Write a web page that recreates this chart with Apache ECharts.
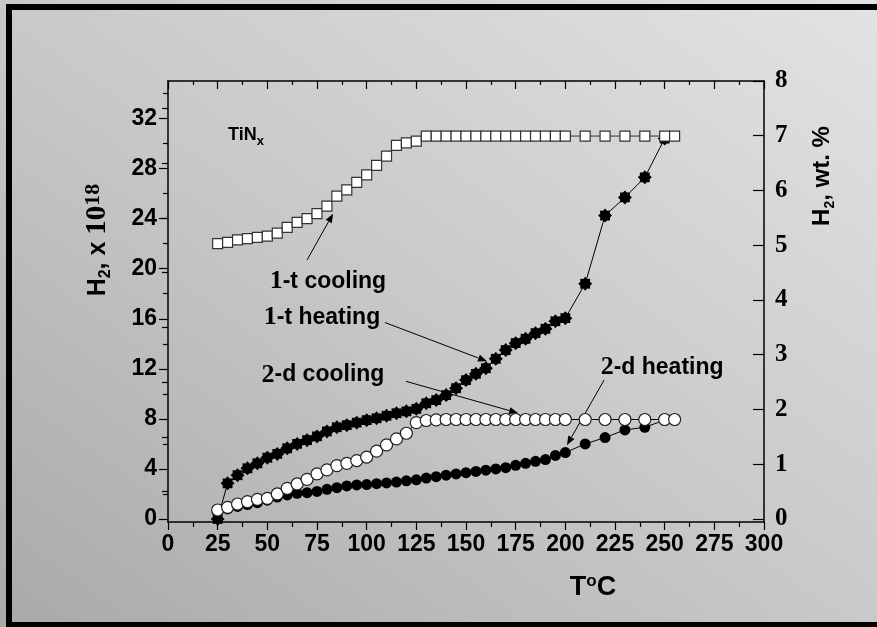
<!DOCTYPE html>
<html>
<head>
<meta charset="utf-8">
<script src="https://cdn.jsdelivr.net/npm/echarts@6/dist/echarts.min.js"></script>
<style>
  html, body { margin: 0; padding: 0; }
  #main {
    width: 877px; height: 627px;
    background: linear-gradient(to top right, #a9a9a9 0%, #c9c9c9 50%, #e3e3e3 100%);
  }
</style>
</head>
<body>
<div id="main"></div>
<script>
// temperatures (°C) and H2 (x 10^18)
const cool1T = [25,30,35,40,45,50,55,60,65,70,75,80,85,90,95,100,105,110,115,120,125,130,135,140,145,150,155,160,165,170,175,180,185,190,195,200,210,220,230,240,250,255];
const cool1V = [22.0,22.1,22.3,22.4,22.5,22.6,22.85,23.3,23.7,24.0,24.4,25.0,25.8,26.3,26.9,27.5,28.25,29.0,29.85,30.05,30.2,30.6,30.6,30.6,30.6,30.6,30.6,30.6,30.6,30.6,30.6,30.6,30.6,30.6,30.6,30.6,30.6,30.6,30.6,30.6,30.6,30.6];

const heat1T = [25,30,35,40,45,50,55,60,65,70,75,80,85,90,95,100,105,110,115,120,125,130,135,140,145,150,155,160,165,170,175,180,185,190,195,200,210,220,230,240,250];
const heat1V = [0.0,2.85,3.5,4.05,4.45,4.9,5.2,5.65,6.0,6.3,6.6,7.0,7.33,7.5,7.7,7.9,8.05,8.25,8.45,8.6,8.8,9.25,9.5,9.9,10.45,11.1,11.6,12.05,12.8,13.5,14.05,14.4,14.85,15.2,15.8,16.05,18.8,24.25,25.7,27.3,30.4];

const heat2T = [25,30,35,40,45,50,55,60,65,70,75,80,85,90,95,100,105,110,115,120,125,130,135,140,145,150,155,160,165,170,175,180,185,190,195,200,210,220,230,240,250];
const heat2V = [0.55,0.8,1.0,1.15,1.3,1.5,1.75,1.92,2.05,2.1,2.2,2.37,2.5,2.64,2.72,2.75,2.82,2.88,2.95,3.05,3.13,3.27,3.38,3.5,3.6,3.7,3.8,3.9,4.0,4.1,4.29,4.45,4.61,4.75,5.08,5.31,6.0,6.51,7.12,7.33,7.9];

const cool2T = [25,30,35,40,45,50,55,60,65,70,75,80,85,90,95,100,105,110,115,120,125,130,135,140,145,150,155,160,165,170,175,180,185,190,195,200,210,220,230,240,250,255];
const cool2V = [0.72,0.93,1.2,1.39,1.57,1.65,2.0,2.45,2.8,3.17,3.6,3.92,4.27,4.45,4.67,4.95,5.42,5.92,6.4,6.85,7.7,7.87,7.92,7.95,7.95,7.95,7.95,7.95,7.95,7.95,7.95,7.95,7.95,7.95,7.95,7.95,7.95,7.95,7.95,7.95,7.95,7.95];

// axis ticks
const leftTicks = [0,4,8,12,16,20,24,28,32];
const leftMinor = [2,6,10,14,18,22,26,30,34];
const rightTicks = [0,1,2,3,4,5,6,7,8];
const rightMinor = [0.5,1.5,2.5,3.5,4.5,5.5,6.5,7.5];

// annotations: [digit, rest of label, label T, label H2, arrow tail T, tail H2, head T, head H2]
const notes = [
  ['1', '-t cooling', 80.5, 19.0, 70.0, 20.7, 83.1, 24.4],
  ['1', '-t heating', 77.5, 16.1, 109.2, 15.7, 160.6, 12.6],
  ['2', '-d cooling', 78.0, 11.5, 119.8, 11.0, 176.2, 8.47],
  ['2', '-d heating', 248.7, 12.1, 219.5, 11.1, 200.8, 5.9]
];

function zip(xs, ys) { return xs.map((x, i) => [x, ys[i]]); }

const sans = 'Liberation Sans, Arial, sans-serif';
const serif = 'Liberation Serif, Times New Roman, serif';
const black = '#000';
const starPath = 'path://M20 10 L16.93 12.87 L17.07 17.07 L12.87 16.93 L10 20 L7.13 16.93 L2.93 17.07 L3.07 12.87 L0 10 L3.07 7.13 L2.93 2.93 L7.13 3.07 L10 0 L12.87 3.07 L17.07 2.93 L16.93 7.13 Z';

const myChart = echarts.init(document.getElementById('main'), null, { renderer: 'canvas' });

const axisLine = { show: true, onZero: false, lineStyle: { color: black, width: 1.5 } };
const tickStyle = { color: black, width: 1.2 };

let option = {
  backgroundColor: 'transparent',
  animation: false,
  grid: { left: 168, right: 113, top: 81, bottom: 105 },
  xAxis: [
    {
      type: 'value', position: 'bottom', min: 0, max: 300, interval: 25,
      axisLine: axisLine,
      axisTick: { length: 8, lineStyle: tickStyle },
      minorTick: { show: true, splitNumber: 2, length: 5, lineStyle: tickStyle },
      axisLabel: { color: black, fontSize: 23, fontFamily: sans, fontWeight: 'bold', margin: 11 },
      splitLine: { show: false }
    },
    {
      type: 'value', position: 'top', min: 0, max: 300, interval: 25,
      axisLine: axisLine,
      axisTick: { inside: true, length: 8, lineStyle: tickStyle },
      minorTick: { show: true, splitNumber: 2, length: 4, lineStyle: tickStyle },
      axisLabel: { show: false },
      splitLine: { show: false }
    }
  ],
  yAxis: [
    {
      type: 'value', position: 'left', min: -0.24, max: 35,
      axisLine: axisLine,
      axisTick: { length: 9, lineStyle: tickStyle, customValues: leftTicks },
      axisLabel: { customValues: leftTicks, color: black, fontSize: 23, fontFamily: sans, fontWeight: 'bold', margin: 11 },
      splitLine: { show: false }
    },
    {
      type: 'value', position: 'left', min: -0.24, max: 35,
      axisLine: { show: false },
      axisTick: { length: 5, lineStyle: tickStyle, customValues: leftMinor },
      axisLabel: { show: false },
      splitLine: { show: false }
    },
    {
      type: 'value', position: 'right', min: -0.055, max: 8,
      axisLine: axisLine,
      axisTick: { inside: true, length: 11, lineStyle: tickStyle, customValues: rightTicks },
      axisLabel: { customValues: rightTicks, color: black, fontSize: 25, fontFamily: serif, fontWeight: 'bold', margin: 11 },
      splitLine: { show: false }
    },
    {
      type: 'value', position: 'right', min: -0.055, max: 8,
      axisLine: { show: false },
      axisTick: { inside: true, length: 6, lineStyle: tickStyle, customValues: rightMinor },
      axisLabel: { show: false },
      splitLine: { show: false }
    }
  ],
  series: [
    {
      name: '1-t heating', type: 'line', data: zip(heat1T, heat1V),
      symbol: starPath, symbolSize: 14,
      itemStyle: { color: black },
      lineStyle: { color: black, width: 1 }
    },
    {
      name: '2-d heating', type: 'line', data: zip(heat2T, heat2V),
      symbol: 'circle', symbolSize: 11,
      itemStyle: { color: black },
      lineStyle: { color: black, width: 1 }
    },
    {
      name: '1-t cooling', type: 'line', data: zip(cool1T, cool1V),
      symbol: 'rect', symbolSize: 10,
      itemStyle: { color: '#fff', borderColor: '#333', borderWidth: 1.2 },
      lineStyle: { color: '#333', width: 1 }
    },
    {
      name: '2-d cooling', type: 'line', data: zip(cool2T, cool2V),
      symbol: 'circle', symbolSize: 12,
      itemStyle: { color: '#fff', borderColor: '#222', borderWidth: 1.2 },
      lineStyle: { color: black, width: 1 }
    }
  ]
};
option && myChart.setOption(option);

// annotations and titles, placed with the chart's own scales
function px(t, v) { return myChart.convertToPixel({ xAxisIndex: 0, yAxisIndex: 0 }, [t, v]); }

const graphics = [
  {
    type: 'rect', silent: true, z: 100,
    shape: { x: 9, y: 7, width: 900, height: 618 },
    style: { fill: 'none', stroke: black, lineWidth: 6 }
  },
  {
    type: 'text', x: 98, y: 240, rotation: Math.PI / 2,
    style: {
      text: '{a|H}{s|2}{a|, x }{n|10}{p|18}',
      align: 'center', verticalAlign: 'middle',
      rich: {
        a: { fontFamily: sans, fontWeight: 'bold', fontSize: 25, lineHeight: 32, fill: black },
        s: { fontFamily: sans, fontWeight: 'bold', fontSize: 16, lineHeight: 14, verticalAlign: 'bottom', fill: black },
        n: { fontFamily: serif, fontWeight: 'bold', fontSize: 29, lineHeight: 32, fill: black },
        p: { fontFamily: serif, fontWeight: 'bold', fontSize: 22, lineHeight: 20, verticalAlign: 'top', fill: black }
      }
    }
  },
  {
    type: 'text', x: 822, y: 176, rotation: Math.PI / 2,
    style: {
      text: '{a|H}{s|2}{a|, wt. %}',
      align: 'center', verticalAlign: 'middle',
      rich: {
        a: { fontFamily: sans, fontWeight: 'bold', fontSize: 24, lineHeight: 30, fill: black },
        s: { fontFamily: sans, fontWeight: 'bold', fontSize: 14, lineHeight: 12, verticalAlign: 'bottom', fill: black }
      }
    }
  },
  {
    type: 'text', x: 593, y: 588,
    style: {
      text: '{a|T}{p|o}{a|C}',
      align: 'center', verticalAlign: 'middle',
      rich: {
        a: { fontFamily: sans, fontWeight: 'bold', fontSize: 27, lineHeight: 30, fill: black },
        p: { fontFamily: sans, fontWeight: 'bold', fontSize: 17, lineHeight: 17, verticalAlign: 'top', fill: black }
      }
    }
  }
];

// TiNx label
const tin = px(30.2, 30.7);
graphics.push({
  type: 'text', x: tin[0], y: tin[1],
  style: {
    text: '{a|TiN}{s|x}',
    align: 'left', verticalAlign: 'middle',
    rich: {
      a: { fontFamily: sans, fontWeight: 'bold', fontSize: 18, lineHeight: 26, fill: black },
      s: { fontFamily: sans, fontWeight: 'bold', fontSize: 13, lineHeight: 10, verticalAlign: 'bottom', fill: black }
    }
  }
});

notes.forEach(n => {
  const c = px(n[2], n[3]);
  const p0 = px(n[4], n[5]);
  const p1 = px(n[6], n[7]);
  graphics.push({
    type: 'text', x: c[0], y: c[1],
    style: {
      text: '{d|' + n[0] + '}{b|' + n[1] + '}',
      align: 'center', verticalAlign: 'middle',
      rich: {
        d: { fontFamily: serif, fontWeight: 'bold', fontSize: 26, fill: black },
        b: { fontFamily: sans, fontWeight: 'bold', fontSize: 23, fill: black }
      }
    }
  });
  const dx = p1[0] - p0[0], dy = p1[1] - p0[1];
  const len = Math.sqrt(dx * dx + dy * dy);
  const ux = dx / len, uy = dy / len;
  const L = 9, W = 3.5;
  const bx = p1[0] - L * ux, by = p1[1] - L * uy;
  graphics.push({
    type: 'line', shape: { x1: p0[0], y1: p0[1], x2: bx, y2: by },
    style: { stroke: black, lineWidth: 1 }
  });
  graphics.push({
    type: 'polygon',
    shape: { points: [[p1[0], p1[1]], [bx - W * uy, by + W * ux], [bx + W * uy, by - W * ux]] },
    style: { fill: black }
  });
});

myChart.setOption({ graphic: graphics });
</script>
</body>
</html>
